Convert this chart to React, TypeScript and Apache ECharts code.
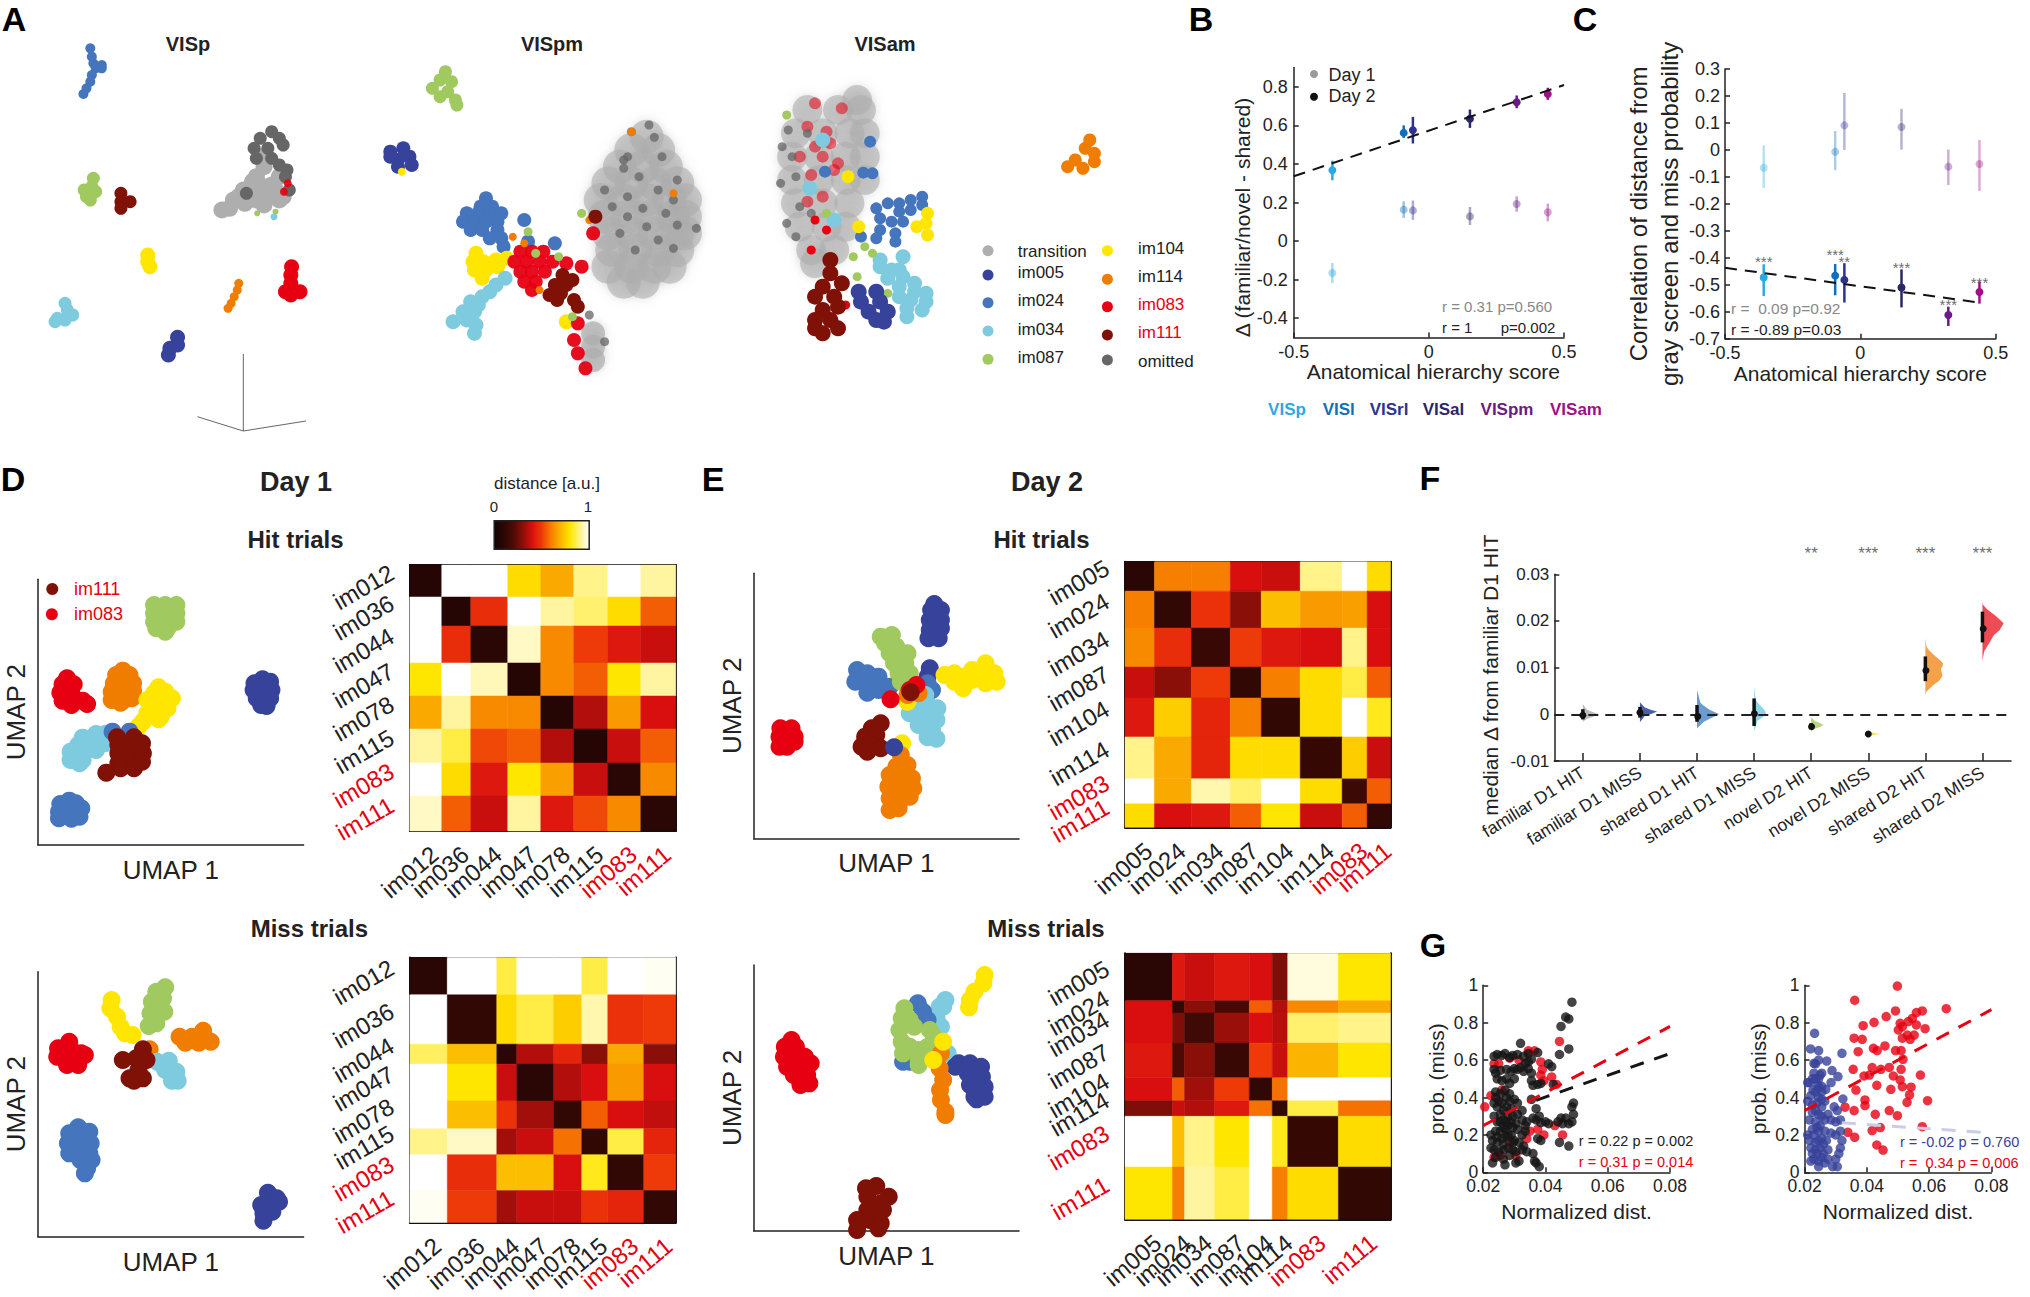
import React, { useEffect, useRef } from "react";
import * as echarts from "echarts";

const FONT = "'Liberation Sans', Arial, sans-serif";
const colors: Record<string, string> = {
  im005: "#37429a", im024: "#4475bd", im034: "#7ecbdf", im087: "#a0c95f", im104: "#ffe600",
  im114: "#f07d00", im083: "#e60012", im111: "#7f1106", transition: "#aeaeae", omitted: "#666666",
};
type Cluster = [string, number[][], number?, number?];

// ---- Panel A: UMAP embeddings
const vispUmap: Cluster[] = [
  ["transition", [[290,630],[305,600],[318,570],[335,600],[350,590],[360,570],[335,530],[345,500],[365,530],[340,470],[320,610],[345,615],[300,625],[312,590],[330,570],[355,555],[365,600],[330,545],[345,560],[370,590]], 17, 1],
  ["omitted", [[355,395],[340,415],[365,415],[332,445],[350,445],[370,435],[335,475],[355,475],[365,495],[375,510],[373,530],[322,580],[378,570]], 13, 1],
  ["im083", [[371,575],[376,550]], 8, 0.9],
  ["im087", [[360,635],[336,640]], 6, 1],
  ["im034", [[358,650]], 7, 1],
  ["im024", [[118,145],[120,170],[122,190],[133,195],[125,205],[133,205],[120,225],[118,245],[113,265],[109,282]], 10, 1],
  ["im087", [[122,535],[120,560],[110,570],[125,575],[113,590],[118,600]], 13, 1],
  ["im111", [[158,580],[158,605],[170,605],[158,625]], 13, 1],
  ["im104", [[193,765],[193,785],[196,800]], 15, 1],
  ["im083", [[381,800],[380,825],[380,850],[373,875],[392,875],[380,885]], 15, 1],
  ["im114", [[312,850],[310,870],[306,890],[302,910],[298,925]], 9, 1],
  ["im034", [[85,910],[88,930],[95,945],[75,955],[85,960],[72,965]], 13, 1],
  ["im005", [[232,1012],[232,1035],[222,1045],[220,1065]], 15, 1],
];
const vispmUmap: Cluster[] = [
  ["transition", [[845,410],[825,450],[860,450],[810,500],[840,500],[870,500],[795,550],[825,550],[855,550],[885,550],[785,600],[815,600],[845,600],[875,600],[895,600],[790,650],[820,650],[850,650],[880,650],[895,650],[795,700],[825,700],[855,700],[885,700],[895,700],[800,750],[830,750],[860,750],[885,750],[795,800],[825,800],[855,800],[875,800],[815,845],[840,845]], 34, 0.6],
  ["transition", [[775,1000],[775,1040],[775,1080]], 24, 0.7],
  ["omitted", [[825,395],[848,375],[855,412],[820,470],[815,505],[865,470],[885,540],[835,530],[790,570],[820,590],[860,570],[880,600],[800,620],[840,625],[870,640],[820,650],[885,675],[845,680],[910,685],[860,720],[810,700],[880,745],[830,750],[790,1025],[770,945],[815,480]], 9, 0.75],
  ["im024", [[635,595],[628,620],[643,620],[610,640],[625,640],[640,640],[655,640],[605,665],[620,665],[635,665],[650,665],[615,690],[630,690],[650,690],[640,715],[655,715],[658,740],[685,660],[690,725],[725,730]], 14, 1],
  ["im104", [[622,760],[618,785],[632,785],[648,780],[662,775],[620,810],[635,810],[650,800],[630,835],[740,965]], 15, 1],
  ["im034", [[660,835],[648,855],[640,875],[630,890],[615,905],[625,915],[605,935],[620,935],[592,965],[610,960],[622,975],[620,1000]], 15, 1],
  ["im083", [[680,755],[695,755],[710,755],[672,785],[688,785],[705,785],[722,785],[680,815],[695,815],[712,815],[685,845],[700,845],[695,870],[740,790],[755,970],[750,1020],[755,1060],[765,1105],[775,700],[760,800]], 14, 0.95],
  ["im114", [[685,730],[670,710],[705,870],[880,580],[825,395],[770,660]], 8, 1],
  ["im087", [[730,770],[748,950],[700,760],[690,695],[760,640]], 9, 1],
  ["im111", [[735,825],[725,855],[740,855],[718,885],[733,880],[748,840],[728,900],[755,920],[750,900],[778,650]], 14, 1],
  ["im087", [[582,215],[575,240],[590,245],[565,265],[585,275],[575,290],[595,300],[597,315]], 13, 1],
  ["im005", [[527,445],[510,455],[535,470],[520,480],[510,470],[520,500],[538,495]], 14, 1],
  ["im104", [[525,515]], 8, 1],
];
const visamUmap: Cluster[] = [
  ["transition", [[1120,300],[1055,330],[1095,330],[1125,330],[1040,400],[1075,400],[1110,400],[1130,400],[1035,470],[1070,470],[1105,470],[1130,470],[1035,540],[1070,540],[1105,540],[1130,540],[1040,610],[1075,610],[1110,610],[1045,680],[1080,680],[1105,680],[1060,750],[1090,750],[1065,790]], 30, 0.6],
  ["im083", [[1065,310],[1100,325],[1055,380],[1080,395],[1045,470],[1075,470],[1095,490],[1060,525],[1055,605],[1075,590],[1090,510],[1065,440],[1085,430]], 12, 0.55],
  ["omitted", [[1030,390],[1022,440],[1020,550],[1040,530],[1028,670],[1035,470],[1055,400],[1045,620],[1060,640],[1040,710]], 9, 0.75],
  ["im034", [[1075,420],[1058,565],[1090,660],[1150,800],[1165,810],[1180,830],[1195,850],[1160,835],[1175,860],[1195,875],[1210,880],[1175,890],[1190,900],[1210,905],[1185,925],[1205,930],[1185,950],[1150,780],[1180,770],[1175,810]], 15, 1],
  ["im024", [[1137,425],[1128,518],[1140,520],[1078,515],[1205,590],[1190,600],[1175,610],[1160,610],[1145,625],[1175,635],[1190,630],[1205,615],[1150,655],[1165,665],[1180,665],[1150,690],[1170,700],[1145,715],[1170,725],[1125,710]], 12, 1],
  ["im104", [[1212,640],[1210,670],[1198,680],[1212,705],[1108,530],[1122,680]], 13, 1],
  ["im087", [[1130,740],[1115,770],[1140,760],[1120,830],[1160,880],[1028,345],[1080,640]], 9, 1],
  ["im005", [[1122,875],[1145,875],[1125,905],[1150,905],[1135,935],[1160,935],[1145,960],[1155,965]], 16, 1],
  ["im083", [[1105,915],[1060,750],[1080,690],[1065,660]], 9, 1],
  ["im111", [[1085,780],[1085,820],[1075,860],[1100,850],[1065,890],[1090,890],[1075,930],[1095,920],[1065,960],[1085,960],[1075,1000],[1095,985],[1065,985]], 16, 1],
  ["im114", [[1424,420],[1418,445],[1430,460],[1405,480],[1430,485],[1415,505],[1395,500]], 13, 1],
];
const legendDots: Cluster[] = [
  ["transition", [[1291,752]], 11, 1], ["im005", [[1291,825]], 11, 1], ["im024", [[1291,908]], 11, 1],
  ["im034", [[1291,993]], 11, 1], ["im087", [[1291,1078]], 11, 1], ["im104", [[1447,752]], 11, 1],
  ["im114", [[1447,838]], 11, 1], ["im083", [[1447,920]], 11, 1], ["im111", [[1447,1005]], 11, 1], ["omitted", [[1447,1080]], 11, 1],
];
const legendNames = ["transition", "im005", "im024", "im034", "im087", "im104", "im114", "im083", "im111", "omitted"];

// ---- Panels D / E: UMAP embeddings
const dHitUmap: Cluster[] = [
  ["im087", [[345,465],[370,465],[395,465],[345,490],[370,490],[395,490],[345,515],[370,515],[395,515],[350,535],[375,535],[370,545]]],
  ["im083", [[150,685],[140,703],[165,703],[135,728],[160,728],[140,752],[165,752],[185,752],[160,765],[195,762]]],
  ["im114", [[275,662],[260,675],[290,675],[255,700],[280,700],[298,700],[250,725],[275,725],[298,722],[250,750],[275,752],[295,745],[270,758]]],
  ["im104", [[355,712],[345,730],[370,725],[330,750],[360,750],[385,745],[345,775],[375,775],[330,790],[360,800],[320,815],[310,830],[355,808]]],
  ["im005", [[588,688],[570,700],[605,695],[568,720],[590,720],[608,720],[575,745],[605,745],[585,765],[597,768]]],
  ["im034", [[215,852],[185,863],[235,852],[210,870],[175,885],[235,880],[158,905],[185,905],[215,900],[158,930],[185,930],[178,940]]],
  ["im024", [[252,845],[290,845]]],
  ["im111", [[262,862],[300,862],[265,885],[295,885],[318,880],[265,910],[295,910],[320,910],[265,940],[295,940],[318,935],[270,955],[300,955],[238,968]]],
  ["im024", [[155,1052],[135,1062],[170,1060],[132,1085],[155,1085],[182,1075],[132,1105],[160,1106],[178,1100]]],
];
const dMissUmap: Cluster[] = [
  ["im104", [[250,330],[247,355],[262,380],[270,410],[280,430],[297,435]]],
  ["im087", [[370,292],[350,305],[365,325],[340,335],[368,365],[337,370],[350,400],[333,408]]],
  ["im114", [[455,422],[430,440],[460,445],[472,455],[402,440],[415,458],[445,458],[335,478]]],
  ["im083", [[155,455],[130,475],[160,480],[182,490],[128,500],[150,505],[190,495],[150,525],[175,525]]],
  ["im034", [[352,515],[378,512],[370,540],[395,545],[385,572],[398,572]]],
  ["im111", [[320,478],[275,510],[305,505],[328,510],[310,540],[290,565],[320,565],[300,572]]],
  ["im024", [[175,712],[155,730],[200,725],[152,760],[175,760],[203,760],[155,790],[200,790],[180,810],[205,810],[190,850],[195,835]]],
  ["im005", [[600,908],[620,925],[585,945],[625,935],[590,970],[610,965],[590,992]]],
];
const eHitUmap: Cluster[] = [
  ["im005", [[525,462],[518,480],[540,480],[515,510],[540,510],[515,540],[540,535],[512,565],[535,565],[515,655],[510,680]]],
  ["im024", [[352,660],[348,695],[375,670],[375,705],[400,680],[400,720],[375,728],[425,710],[510,700],[520,720]]],
  ["im034", [[505,735],[480,765],[515,770],[532,775],[470,790],[500,800],[530,810],[490,825],[520,835],[510,862],[530,866]]],
  ["im087", [[405,560],[430,555],[415,580],[440,590],[425,610],[450,620],[465,610],[435,640],[460,640],[445,670],[470,670],[450,695]]],
  ["im104", [[548,675],[570,670],[590,680],[610,660],[640,640],[660,670],[640,670],[610,690],[640,700],[665,695],[590,715],[570,695],[465,755],[453,880]]],
  ["im114", [[465,735],[490,730],[450,915],[465,945],[440,950],[425,975],[450,980],[475,985],[422,1010],[450,1015],[478,1015],[425,1045],[450,1050],[470,1040],[425,1080],[445,1075]]],
  ["im083", [[470,720],[485,705],[427,748],[180,835],[205,835],[212,860],[178,860],[195,860],[178,890],[195,890],[212,875]]],
  ["im111", [[472,727],[405,820],[385,835],[370,860],[395,855],[362,890],[385,885],[405,895],[375,905]]],
  ["im005", [[435,892]]],
];
const eMissUmap: Cluster[] = [
  ["im104", [[638,255],[635,280],[615,305],[605,330],[603,352]]],
  ["im034", [[550,330],[537,350],[545,350],[530,385],[540,410],[555,490]]],
  ["im024", [[488,340],[500,365],[510,390],[455,515],[470,515]]],
  ["im005", [[580,520],[605,520],[630,530],[572,530],[600,550],[632,560],[605,585],[638,590],[615,620],[638,620],[620,628]]],
  ["im087", [[458,355],[452,385],[470,390],[447,420],[480,410],[515,420],[525,440],[452,455],[510,470],[470,470],[490,480],[455,490],[490,510],[490,525],[520,470]]],
  ["im114", [[537,535],[545,570],[538,600],[540,630],[550,665],[550,675],[540,490]]],
  ["im104", [[545,455],[523,510]]],
  ["im083", [[205,450],[190,470],[215,470],[188,500],[210,500],[235,500],[195,530],[220,525],[248,520],[210,555],[240,555],[225,585],[245,580]]],
  ["im111", [[395,888],[372,895],[375,920],[423,920],[405,940],[375,960],[410,960],[352,990],[380,990],[405,1000],[352,1020],[400,1015]]],
];
const dHitLegend: Cluster[] = [["im111", [[117,417]]], ["im083", [[116,493]]]];

// ---- Panels D / E: distance matrices
const heatStops = ["#120302","#2a0704","#4d0a05","#8a0f08","#d90f0f","#ee3a08","#f77f00","#fbb400","#ffe600","#fff38a","#ffffff"];
const dImages = ["im012","im036","im044","im047","im078","im115","im083","im111"];
const eImages = ["im005","im024","im034","im087","im104","im114","im083","im111"];
const dHitEdges = [0,32,61,98,131,164,198,231,266];
const dMissEdges = [0,37.5,87,107,144,172,198,234,266];
const eHitEdges = [0,29.5,66.5,105.5,136.5,175.5,217.5,242.5,266];
const eMissEdges = [0,47.5,59.7,89.8,124.5,147.5,163,213.7,266];
const dHitMatrix = [
  [.08,1,1,.78,.68,.9,1,.92],[1,.08,.47,1,.92,.88,.78,.55],[1,.47,.1,.95,.62,.5,.42,.38],[.8,1,.94,.08,.62,.55,.8,.92],
  [.68,.92,.62,.62,.08,.35,.65,.4],[.92,.85,.52,.55,.35,.08,.38,.55],[1,.78,.42,.8,.66,.38,.1,.62],[.95,.55,.38,.92,.42,.52,.62,.1],
];
const dMissMatrix = [
  [.1,1,.85,1,1,.85,1,.99],[1,.12,.78,.85,.75,.93,.48,.5],[.87,.72,.1,.35,.45,.3,.68,.3],[1,.8,.38,.1,.35,.4,.65,.4],
  [1,.72,.48,.33,.12,.55,.4,.37],[.9,.95,.33,.38,.58,.12,.85,.45],[1,.47,.72,.72,.4,.82,.12,.5],[.99,.5,.33,.38,.38,.48,.45,.12],
];
const eHitMatrix = [
  [.1,.6,.6,.4,.38,.9,1,.78],[.6,.12,.48,.3,.72,.65,.66,.4],[.62,.47,.14,.5,.42,.4,.9,.4],[.38,.3,.5,.12,.6,.78,.85,.55],
  [.42,.75,.45,.6,.12,.78,1,.82],[.9,.68,.45,.78,.78,.13,.75,.38],[1,.68,.93,.88,1,.78,.15,.55],[.78,.4,.42,.55,.8,.38,.55,.12],
];
const eMissMatrix = [
  [.1,.42,.38,.42,.4,.28,.97,.8],[.4,.12,.3,.18,.55,.35,.62,.68],[.4,.28,.16,.32,.4,.36,.88,.9],[.42,.2,.3,.14,.5,.38,.7,.8],
  [.4,.55,.33,.5,.12,.58,1,1],[.28,.38,.35,.42,.58,.12,.85,.58],[1,.72,.9,.8,1,.82,.13,.78],[.8,.6,.92,.85,1,.6,.78,.12],
];

// ---- Panels B / C
const areas = ["VISp","VISl","VISrl","VISal","VISpm","VISam"];
const areaColors = ["#29abe2","#0f6fba","#2e3192","#2a2668","#6a1b87","#a10f86"];
const hierarchyScore = [-0.357,-0.093,-0.059,0.152,0.325,0.44];
const bDay1 = [-.166,.163,.159,.128,.192,.149];
const bDay1Lo = [-.218,.12,.11,.083,.152,.102];
const bDay1Hi = [-.114,.206,.21,.177,.232,.194];
const bDay2 = [.367,.561,.575,.634,.72,.762];
const bDay2Lo = [.315,.535,.506,.587,.689,.732];
const bDay2Hi = [.417,.6,.644,.682,.755,.795];
const bFit = [[-.5,.336],[.5,.809]];
const cDay1 = [-.066,-.007,.091,.085,-.062,-.052];
const cDay1Lo = [-.141,-.075,0,.001,-.13,-.152];
const cDay1Hi = [.017,.07,.211,.152,.001,.037];
const cDay2 = [-.473,-.466,-.482,-.51,-.612,-.527];
const cDay2Lo = [-.542,-.539,-.566,-.584,-.653,-.57];
const cDay2Hi = [-.424,-.423,-.42,-.443,-.581,-.489];
const cStars = ["***","***","**","***","***","***"];
const cStarY = [-.415,-.388,-.415,-.437,-.573,-.49];
const cFit = [[-.5,-.437],[.44,-.566]];

// ---- Panel F
const fCategories = ["familiar D1 HIT","familiar D1 MISS","shared D1 HIT","shared D1 MISS","novel D2 HIT","novel D2 MISS","shared D2 HIT","shared D2 MISS"];
const fColors = ["#bdbdbd","#4d5fa8","#6a9bd1","#8fd5e6","#b5d67f","#f5e642","#f4a14a","#ed4c55"];
const fMedian = [-.0002,.0004,0,.0004,-.0023,-.0042,.0098,.0188];
const fLow = [-.0011,-.0007,-.0016,-.0025,-.0027,-.0046,.0071,.0154];
const fHigh = [.0011,.0016,.002,.0034,-.0019,-.0038,.0124,.022];
const fStars = ["","","","","**","***","***","***"];
const fProfiles = [
  [[.0022,0],[.001,.07],[.0003,.22],[0,.28],[-.0004,.2],[-.001,.07],[-.0016,0]],
  [[.0026,0],[.0015,.08],[.0009,.2],[.0006,.3],[.0002,.22],[-.0004,.08],[-.0017,0]],
  [[.0052,0],[.0025,.06],[.002,.1],[.001,.22],[0,.39],[-.0008,.25],[-.0016,.12],[-.003,0]],
  [[.006,0],[.003,.03],[.002,.1],[.001,.18],[.0002,.21],[-.0006,.15],[-.0014,.06],[-.0036,0]],
  [[-.0006,0],[-.0014,.06],[-.002,.18],[-.0023,.22],[-.0027,.15],[-.0032,.05],[-.0037,0]],
  [[-.0036,0],[-.004,.1],[-.0042,.22],[-.0044,.1],[-.0047,0]],
  [[.0163,0],[.0145,.02],[.0135,.08],[.0125,.17],[.0115,.27],[.0109,.31],[.0103,.3],[.0097,.27],[.0088,.29],[.0082,.3],[.0072,.24],[.0062,.13],[.0049,.02],[.0042,0]],
  [[.024,0],[.0235,.01],[.0225,.08],[.021,.24],[.0195,.37],[.018,.3],[.017,.2],[.0155,.13],[.0135,.03],[.0115,0]],
];

// ---- Panel G
const gBlackLeft = [[.0235,.62],[.0245,.63],[.026,.625],[.027,.635],[.0285,.615],[.0295,.625],[.031,.63],[.032,.69],[.033,.62],[.0345,.635],[.0355,.605],[.0375,.64],[.0235,.55],[.024,.53],[.0255,.545],[.0245,.5],[.026,.49],[.0275,.55],[.0275,.5],[.0285,.475],[.029,.54],[.03,.555],[.03,.5],[.031,.55],[.032,.56],[.033,.54],[.0335,.58],[.0345,.59],[.0345,.555],[.0355,.53],[.0355,.49],[.036,.465],[.0375,.47],[.0385,.475],[.041,.58],[.042,.565],[.0425,.47],[.0485,.91],[.0465,.83],[.0475,.82],[.045,.78],[.0445,.63],[.0475,.66],[.049,.37],[.0485,.35],[.049,.31],[.0485,.27],[.0465,.29],[.045,.29],[.044,.27],[.0455,.26],[.0475,.26],[.0445,.16],[.0475,.14],[.037,.34],[.0355,.39],[.036,.29],[.037,.28],[.038,.3],[.0385,.265],[.04,.27],[.041,.26],[.0375,.18],[.0385,.17],[.036,.1],[.037,.05],[.038,.03],[.0365,.06],[.024,.43],[.024,.4],[.0235,.37],[.025,.38],[.0245,.35],[.026,.37],[.0275,.4],[.0285,.38],[.03,.39],[.031,.37],[.029,.34],[.0265,.33],[.0255,.31],[.0235,.3],[.0245,.27],[.0265,.28],[.028,.3],[.0295,.3],[.031,.31],[.0325,.33],[.0325,.28],[.0335,.25],[.034,.27],[.0335,.22],[.024,.22],[.0225,.2],[.0255,.22],[.027,.23],[.028,.25],[.0295,.24],[.031,.23],[.0325,.2],[.023,.17],[.0245,.16],[.026,.18],[.0275,.19],[.029,.2],[.03,.17],[.0315,.16],[.033,.14],[.034,.11],[.0225,.13],[.0235,.12],[.025,.11],[.0265,.12],[.028,.13],[.0295,.12],[.0305,.11],[.0325,.12],[.024,.08],[.023,.05],[.0265,.07],[.027,.04],[.0285,.09],[.0305,.05],[.0315,.06],[.0255,.42],[.027,.44],[.0285,.42],[.0275,.35],[.0255,.27],[.028,.2],[.0265,.15],[.0245,.19],[.0295,.16],[.029,.27],[.0305,.26],[.0265,.24],[.0275,.27]];
const gRedLeft = [[.0205,.35],[.0225,.41],[.0235,.58],[.025,.58],[.026,.44],[.0285,.61],[.0315,.6],[.0345,.65],[.0365,.65],[.0385,.59],[.039,.55],[.0385,.52],[.0395,.49],[.0445,.7],[.042,.51],[.0435,.47],[.035,.22],[.0375,.23],[.0395,.2],[.0455,.2],[.043,.25],[.0255,.09],[.0235,.08],[.0305,.09],[.034,.18],[.0285,.16]];
const gBlueRight = [[.0232,.743],[.0219,.66],[.0245,.651],[.032,.636],[.0271,.595],[.023,.583],[.0288,.544],[.0307,.512],[.0255,.53],[.023,.53],[.021,.48],[.0285,.48],[.0268,.444],[.0243,.467],[.0227,.44],[.0323,.392],[.021,.2],[.0215,.17],[.022,.13],[.0225,.1],[.023,.07],[.0245,.03],[.0245,.06],[.024,.1],[.025,.13],[.0235,.16],[.0225,.23],[.0215,.28],[.0235,.27],[.025,.25],[.0265,.22],[.0285,.21],[.03,.2],[.0315,.22],[.032,.17],[.0315,.13],[.031,.1],[.03,.07],[.029,.03],[.0305,.03],[.0275,.12],[.026,.1],[.027,.17],[.0255,.18],[.0235,.33],[.0225,.36],[.021,.38],[.0245,.31],[.0255,.35],[.0265,.28],[.0285,.28],[.03,.27],[.0315,.28],[.0275,.31],[.0265,.38],[.0245,.4],[.0235,.43],[.022,.41],[.0255,.46],[.0245,.5],[.025,.52],[.0225,.5],[.0255,.43],[.0295,.35],[.0305,.33],[.0215,.48],[.0235,.58],[.0245,.6],[.0255,.39],[.0245,.22],[.0225,.32],[.0255,.08],[.0265,.05],[.0275,.07],[.023,.2],[.024,.37],[.0235,.12],[.022,.06],[.0255,.3],[.0245,.45],[.0235,.5],[.0245,.17],[.026,.15],[.024,.24]];
const gRedRight = [[.0498,.996],[.0361,.92],[.0655,.875],[.0578,.863],[.0559,.854],[.0492,.863],[.0462,.833],[.0423,.802],[.0388,.784],[.0546,.823],[.0533,.806],[.0559,.788],[.0587,.768],[.0507,.797],[.0514,.779],[.0501,.761],[.0359,.717],[.0385,.711],[.0514,.717],[.053,.734],[.0552,.734],[.0539,.711],[.0458,.676],[.0421,.663],[.0433,.651],[.0372,.645],[.0492,.651],[.051,.651],[.0516,.604],[.0356,.551],[.0417,.56],[.0445,.551],[.0472,.561],[.051,.551],[.0572,.52],[.0391,.515],[.0408,.52],[.0485,.515],[.0507,.494],[.0365,.44],[.0432,.465],[.0477,.444],[.0514,.458],[.0542,.455],[.0537,.414],[.0529,.374],[.0394,.387],[.0394,.357],[.033,.348],[.0359,.33],[.0427,.31],[.0472,.33],[.0498,.303],[.0595,.383],[.0578,.244],[.0443,.239],[.0417,.223],[.0339,.214],[.0361,.187],[.0432,.146],[.0452,.119]];
const gFitRedLeft = [[.02,.25],[.08,.78]];
const gFitBlackLeft = [[.037,.385],[.08,.635]];
const gFitRedRight = [[.02,.33],[.08,.87]];
const gFitBlueRight = [[.032,.265],[.08,.21]];

const grids: any[] = [], xAxes: any[] = [], yAxes: any[] = [], series: any[] = [];
const axisBase = (fontSize: number, margin: number) => ({
  axisLine: { show: true, onZero: false, lineStyle: { color: "#222", width: 1.5 } },
  axisTick: { show: true, inside: true, length: 5, lineStyle: { color: "#222", width: 1.5 } },
  axisLabel: { show: true, color: "#222", fontSize, fontFamily: FONT, margin, showMinLabel: true, showMaxLabel: true },
  splitLine: { show: false },
  nameTextStyle: { color: "#222", fontFamily: FONT, fontSize: 21 },
  nameLocation: "middle",
});
const addGrid = (left: number, top: number, width: number, height: number) => {
  grids.push({ left, top, width, height, outerBoundsMode: "none" });
  return grids.length - 1;
};
const addUmap = (rect: number[], xr: number[], yr: number[], clusters: Cluster[], defaultSize: number, showAxes: boolean) => {
  const g = addGrid(rect[0], rect[1], rect[2], rect[3]);
  const base = showAxes ? { axisLine: { show: true, onZero: false, lineStyle: { color: "#222", width: 1.5 } }, axisTick: { show: false }, axisLabel: { show: false }, splitLine: { show: false }, nameLocation: "middle", nameTextStyle: { color: "#222", fontFamily: FONT, fontSize: 26 } } : { show: false };
  xAxes.push({ ...base, type: "value", gridIndex: g, min: xr[0], max: xr[1], position: "bottom", name: showAxes ? "UMAP 1" : "", nameGap: 12 });
  yAxes.push({ ...base, type: "value", gridIndex: g, min: yr[0], max: yr[1], inverse: true, position: "left", name: showAxes ? "UMAP 2" : "", nameGap: 9, nameRotate: 90 });
  const ax = xAxes.length - 1;
  clusters.forEach(([k, pts, size, op]) => series.push({ type: "scatter", xAxisIndex: ax, yAxisIndex: ax, data: pts, symbolSize: size ?? defaultSize, clip: false, silent: true,
    itemStyle: { color: colors[k], opacity: op ?? 1, ...(size && size > 20 ? { shadowBlur: 10, shadowColor: "rgba(170,170,170,0.6)" } : {}) } }));
};

const heatSeriesIdx: number[] = [];
const heatLabels: any[] = [];
const nameColor = (n: string) => (n === "im083" || n === "im111" ? "#e60012" : "#222");
const addHeat = (rect: number[], edges: number[], matrix: number[][], names: string[]) => {
  const g = addGrid(rect[0], rect[1], rect[2], rect[3]);
  const max = edges[edges.length - 1];
  const centres = names.map((_, i) => (edges[i] + edges[i + 1]) / 2);
  const frame = { axisLine: { show: true, onZero: false, lineStyle: { color: "#111", width: 2 } }, axisTick: { show: true, inside: true, length: 4, customValues: centres, lineStyle: { color: "#111", width: 1.2 } }, axisLabel: { show: false }, splitLine: { show: false } };
  xAxes.push({ ...frame, type: "value", gridIndex: g, min: 0, max, position: "bottom" });
  yAxes.push({ ...frame, type: "value", gridIndex: g, min: 0, max, inverse: true, position: "left" });
  const ax = xAxes.length - 1;
  xAxes.push({ ...frame, type: "value", gridIndex: g, min: 0, max, position: "top" });
  yAxes.push({ ...frame, type: "value", gridIndex: g, min: 0, max, inverse: true, position: "right" });
  names.forEach((n, i) => {
    const common = { type: "text", silent: true, z: 100 };
    heatLabels.push({ ...common, x: rect[0] + (centres[i] / max) * rect[2] + 9, y: rect[1] + rect[3] + 20, rotation: (40 * Math.PI) / 180,
      style: { text: n, fill: nameColor(n), font: `24px ${FONT}`, align: "right", verticalAlign: "middle", textAlign: "right", textVerticalAlign: "middle" } });
    heatLabels.push({ ...common, x: rect[0] - 12, y: rect[1] + (centres[i] / max) * rect[3], rotation: (30 * Math.PI) / 180,
      style: { text: n, fill: nameColor(n), font: `24px ${FONT}`, align: "right", verticalAlign: "bottom", textAlign: "right", textVerticalAlign: "bottom" } });
  });
  const data: number[][] = [];
  matrix.forEach((row, r) => row.forEach((v, c) => data.push([edges[c], edges[c + 1], edges[r], edges[r + 1], v])));
  heatSeriesIdx.push(series.length);
  series.push({
    type: "custom", xAxisIndex: ax, yAxisIndex: ax, data, silent: true,
    encode: { x: [0, 1], y: [2, 3] },
    renderItem: (_: any, api: any) => {
      const a = api.coord([api.value(0), api.value(2)]);
      const b = api.coord([api.value(1), api.value(3)]);
      const fill = api.visual("color");
      return { type: "rect", shape: { x: a[0], y: a[1], width: b[0] - a[0], height: b[1] - a[1] }, style: { fill, stroke: fill, lineWidth: 0.5 } };
    },
  });
};

const dotBars = (ax: number, val: number[], lo: number[], hi: number[], opacity: number) => {
  series.push({
    type: "custom", xAxisIndex: ax, yAxisIndex: ax, silent: true,
    data: val.map((v, i) => [hierarchyScore[i], v, lo[i], hi[i], i]),
    encode: { x: 0, y: 1 },
    renderItem: (_: any, api: any) => {
      const x = api.value(0);
      const p = api.coord([x, api.value(1)]);
      const l = api.coord([x, api.value(2)]);
      const h = api.coord([x, api.value(3)]);
      const c = areaColors[api.value(4)];
      return { type: "group", children: [
        { type: "line", shape: { x1: l[0], y1: l[1], x2: h[0], y2: h[1] }, style: { stroke: c, lineWidth: 2.5, opacity } },
        { type: "circle", shape: { cx: p[0], cy: p[1], r: 4 }, style: { fill: c, opacity } },
      ] };
    },
  });
};
const dashed = (ax: number, pts: number[][], color: string, width: number, dash: number[]) =>
  series.push({ type: "line", xAxisIndex: ax, yAxisIndex: ax, data: pts, showSymbol: false, silent: true, clip: false, lineStyle: { color, width, type: dash } });

// Panel A
addUmap([0, 0, 1200, 450], [0, 1568], [0, 1350], vispUmap, 12, false);
addUmap([0, 0, 1200, 450], [0, 1568], [0, 1350], vispmUmap, 12, false);
addUmap([0, 0, 1200, 450], [0, 1568], [0, 1350], visamUmap, 12, false);
addUmap([0, 0, 1200, 450], [0, 1568], [0, 1350], legendDots, 10, false);

// Panels D, E
addUmap([38, 579.3, 265.6, 265.7], [85, 680], [388, 1185], dHitUmap, 18, true);
addUmap([38, 579.3, 265.6, 265.7], [85, 680], [388, 1185], dHitLegend, 12, false);
addUmap([38, 971.7, 265.6, 265], [85, 680], [245, 1040], dMissUmap, 18, true);
addUmap([753.6, 573.3, 265.4, 265], [120, 715], [370, 1165], eHitUmap, 18, true);
addUmap([753.6, 965, 265.4, 265.7], [120, 715], [225, 1022], eMissUmap, 18, true);
addHeat([409.8, 565, 266, 266], dHitEdges, dHitMatrix, dImages);
addHeat([409.8, 957.5, 266, 265], dMissEdges, dMissMatrix, dImages);
addHeat([1125, 561.7, 265.6, 265.6], eHitEdges, eHitMatrix, eImages);
addHeat([1125, 953.3, 265.6, 266], eMissEdges, eMissMatrix, eImages);

// Panel B
{
  const g = addGrid(1293.7, 67.5, 270.3, 270);
  const yt = [-.4,-.2,0,.2,.4,.6,.8];
  const b = axisBase(18, 6);
  xAxes.push({ ...b, type: "value", gridIndex: g, min: -.5, max: .5, interval: .5, position: "bottom", axisLabel: { ...b.axisLabel, margin: 5 }, name: "Anatomical hierarchy score", nameGap: 20, nameTextStyle: { ...b.nameTextStyle, padding: [0, 0, 0, 9] } });
  yAxes.push({ ...b, type: "value", gridIndex: g, min: -.5, max: .9, position: "left", axisTick: { ...b.axisTick, customValues: yt }, axisLabel: { ...b.axisLabel, customValues: yt }, name: "Δ (familiar/novel - shared)", nameGap: 31, nameRotate: 90, nameTextStyle: { ...b.nameTextStyle, padding: [0, 30, 0, 0] } });
  const ax = xAxes.length - 1;
  dotBars(ax, bDay1, bDay1Lo, bDay1Hi, 0.4);
  dashed(ax, bFit, "#111", 2, [12, 8]);
  dotBars(ax, bDay2, bDay2Lo, bDay2Hi, 1);
}
// Panel C
{
  const g = addGrid(1725, 69, 270.7, 269.7);
  const b = axisBase(18, 5);
  xAxes.push({ ...b, type: "value", gridIndex: g, min: -.5, max: .5, interval: .5, position: "bottom", name: "Anatomical hierarchy score", nameGap: 18 });
  yAxes.push({ ...b, type: "value", gridIndex: g, min: -.7, max: .3, interval: .1, position: "left", name: "Correlation of distance from\ngray screen and miss probability", nameGap: 36, nameRotate: 90, nameTextStyle: { ...b.nameTextStyle, fontSize: 24, lineHeight: 31, padding: [0, 20, 0, 0] } });
  const ax = xAxes.length - 1;
  dotBars(ax, cDay1, cDay1Lo, cDay1Hi, 0.35);
  dashed(ax, cFit, "#111", 2, [12, 8]);
  dotBars(ax, cDay2, cDay2Lo, cDay2Hi, 1);
  series.push({ type: "scatter", xAxisIndex: ax, yAxisIndex: ax, symbolSize: 0, silent: true, data: cStarY.map((v, i) => [hierarchyScore[i], v]),
    label: { show: true, position: "inside", fontSize: 15, color: "#444", fontFamily: FONT, formatter: (p: any) => cStars[p.dataIndex] } });
}
// Panel F
{
  const g = addGrid(1554.3, 574.3, 456.7, 186.7);
  const b = axisBase(17, 5);
  xAxes.push({ ...b, type: "category", gridIndex: g, data: fCategories, position: "bottom", axisTick: { ...b.axisTick, alignWithLabel: true, length: 8 }, axisLabel: { ...b.axisLabel, interval: 0, rotate: 32, margin: 10, fontSize: 17.5 } });
  yAxes.push({ ...b, type: "value", gridIndex: g, min: -.01, max: .03, interval: .01, position: "left", name: "median Δ from familiar D1 HIT", nameGap: 53, nameRotate: 90, nameTextStyle: { ...b.nameTextStyle, padding: [0, 15, 0, 0] } });
  const ax = xAxes.length - 1;
  series.push({
    type: "custom", xAxisIndex: ax, yAxisIndex: ax, silent: true,
    data: fMedian.map((m, i) => [i, m]),
    encode: { x: 0, y: 1 },
    renderItem: (p: any, api: any) => {
      const i = p.dataIndex;
      const band = api.size([1, 0])[0];
      const x0 = api.coord([i, 0])[0];
      const pts = fProfiles[i].map(([v, f]) => [x0 + f * band, api.coord([i, v])[1]]);
      return { type: "polygon", shape: { points: pts }, style: { fill: fColors[i] } };
    },
    markLine: { silent: true, symbol: "none", label: { show: false }, data: [{ yAxis: 0 }], lineStyle: { color: "#222", width: 1.8, type: [10, 7] } },
  });
  series.push({
    type: "custom", xAxisIndex: ax, yAxisIndex: ax, silent: true,
    data: fMedian.map((m, i) => [i, m]),
    encode: { x: 0, y: 1 },
    z: 5,
    renderItem: (p: any, api: any) => {
      const i = p.dataIndex;
      const c = api.coord([i, fMedian[i]]);
      const l = api.coord([i, fLow[i]]);
      const h = api.coord([i, fHigh[i]]);
      return { type: "group", children: [
        { type: "line", shape: { x1: c[0], y1: l[1], x2: c[0], y2: h[1] }, style: { stroke: "#111", lineWidth: 3.5 } },
        { type: "circle", shape: { cx: c[0], cy: c[1], r: 3.5 }, style: { fill: "#111" } },
      ] };
    },
  });
  series.push({ type: "scatter", xAxisIndex: ax, yAxisIndex: ax, symbolSize: 0, silent: true, clip: false, data: fStars.map((s, i) => [i, s ? 0.0345 : null]),
    label: { show: true, position: "inside", fontSize: 17, color: "#444", fontFamily: FONT, formatter: (p: any) => fStars[p.dataIndex] } });
}
// Panel G
const addG = (left: number) => {
  const g = addGrid(left, 985.3, 186.8, 187);
  const b = axisBase(17.5, 5);
  xAxes.push({ ...b, type: "value", gridIndex: g, min: .02, max: .08, interval: .02, position: "bottom", name: "Normalized dist.", nameGap: 29, axisLabel: { ...b.axisLabel, formatter: (v: number) => v.toFixed(2) } });
  yAxes.push({ ...b, type: "value", gridIndex: g, min: 0, max: 1, interval: .2, position: "left", name: "prob. (miss)", nameGap: 36, nameRotate: 90 });
  return xAxes.length - 1;
};
const scatterG = (ax: number, data: number[][], color: string) =>
  series.push({ type: "scatter", xAxisIndex: ax, yAxisIndex: ax, data, symbolSize: 9.5, clip: false, silent: true, itemStyle: { color } });
{
  const ax = addG(1483.2);
  scatterG(ax, gRedLeft, colors.im083);
  scatterG(ax, gBlackLeft, "#151515");
  dashed(ax, gFitRedLeft, colors.im083, 3, [14, 11]);
  dashed(ax, gFitBlackLeft, "#151515", 3, [14, 11]);
  const ax2 = addG(1804.6);
  scatterG(ax2, gRedRight, colors.im083);
  scatterG(ax2, gBlueRight, colors.im005);
  dashed(ax2, gFitRedRight, colors.im083, 3, [14, 11]);
  dashed(ax2, gFitBlueRight, "#c9cde8", 3, [14, 11]);
}

const txt = (x: number, y: number, text: string, size: number, o: any = {}) => ({
  type: "text", x, y, rotation: o.rot ?? 0, z: 100, silent: true,
  style: { text, fill: o.color ?? "#222", font: `${o.weight ?? "normal"} ${size}px ${FONT}`, textAlign: o.align ?? "left", textVerticalAlign: "middle", align: o.align ?? "left", verticalAlign: "middle" },
});
const line = (x1: number, y1: number, x2: number, y2: number) => ({ type: "line", shape: { x1, y1, x2, y2 }, silent: true, style: { stroke: "#666", lineWidth: 1 } });
const letter = (x: number, y: number, s: string) => txt(x, y, s, 34, { weight: "bold", color: "#000", align: "center" });

const graphics: any[] = [
  letter(14, 19, "A"), letter(1201, 19, "B"), letter(1585, 19, "C"), letter(13, 479, "D"),
  letter(713, 479, "E"), letter(1430, 478, "F"), letter(1433, 945, "G"),
  txt(188, 44, "VISp", 20, { weight: "bold", align: "center" }),
  txt(552, 44, "VISpm", 20, { weight: "bold", align: "center" }),
  txt(885, 44, "VISam", 20, { weight: "bold", align: "center" }),
  line(243.3, 354, 243.3, 431), line(197.4, 416.7, 243.3, 431), line(306, 421, 243.3, 431),
  txt(1017.7, 251.7, legendNames[0], 17), txt(1017.7, 272, legendNames[1], 17), txt(1017.7, 300.7, legendNames[2], 17),
  txt(1017.7, 329, legendNames[3], 17), txt(1017.7, 357, legendNames[4], 17),
  txt(1138, 248, legendNames[5], 17), txt(1138, 276, legendNames[6], 17), txt(1138, 304, legendNames[7], 17, { color: colors.im083 }),
  txt(1138, 332, legendNames[8], 17, { color: colors.im083 }), txt(1138, 361, legendNames[9], 17),
  txt(296, 482, "Day 1", 27, { weight: "bold", align: "center" }),
  txt(1047, 482, "Day 2", 27, { weight: "bold", align: "center" }),
  txt(295.5, 539, "Hit trials", 24, { weight: "bold", align: "center" }),
  txt(1041.5, 539, "Hit trials", 24, { weight: "bold", align: "center" }),
  txt(309.4, 928, "Miss trials", 24, { weight: "bold", align: "center" }),
  txt(1046, 928, "Miss trials", 24, { weight: "bold", align: "center" }),
  txt(547, 483, "distance [a.u.]", 17, { align: "center" }),
  txt(494, 506, "0", 15, { align: "center" }),
  txt(588, 506, "1", 15, { align: "center" }),
  { type: "rect", shape: { x: 494.2, y: 520.7, width: 95, height: 28.6 }, silent: true, z: 100, style: { fill: "none", stroke: "#222", lineWidth: 1.5 } },
  txt(74, 589, "im111", 18, { color: colors.im083 }),
  txt(74, 614, "im083", 18, { color: colors.im083 }),
  { type: "circle", shape: { cx: 1314, cy: 74, r: 4 }, silent: true, style: { fill: "#999" } },
  { type: "circle", shape: { cx: 1314, cy: 96.7, r: 4 }, silent: true, style: { fill: "#111" } },
  txt(1328.6, 75, "Day 1", 18), txt(1328.6, 96, "Day 2", 18),
  txt(1442, 306, "r = 0.31 p=0.560", 15, { color: "#888" }),
  txt(1442, 327, "r = 1", 15), txt(1500.7, 327, "p=0.002", 15),
  txt(1731, 308, "r =  0.09 p=0.92", 15.5, { color: "#888" }),
  txt(1731, 329, "r = -0.89 p=0.03", 15.5),
  txt(1578.8, 1140.7, "r = 0.22 p = 0.002", 14.5),
  txt(1578.8, 1161.7, "r = 0.31 p = 0.014", 14.5, { color: colors.im083 }),
  txt(1900, 1141.7, "r = -0.02 p = 0.760", 14.5, { color: colors.im005 }),
  txt(1900, 1163, "r =  0.34 p = 0.006", 14.5, { color: colors.im083 }),
  ...heatLabels,
];
[1287, 1338.7, 1389, 1443.5, 1507, 1576].forEach((x, i) => graphics.push(txt(x, 409, areas[i], 17, { weight: "bold", color: areaColors[i], align: "center" })));

export default function App() {
  const ref = useRef<HTMLDivElement>(null);
  useEffect(() => {
    const chart = echarts.init(ref.current!, undefined, { renderer: "svg" });
    chart.setOption({
      animation: false,
      backgroundColor: "#fff",
      textStyle: { fontFamily: FONT },
      grid: grids,
      xAxis: xAxes,
      yAxis: yAxes,
      series,
      visualMap: [{
        type: "continuous", min: 0, max: 1, seriesIndex: heatSeriesIdx, dimension: 4, orient: "horizontal",
        left: 494.2, top: 520.7, padding: 0, itemWidth: 28.6, itemHeight: 95, calculable: false, showLabel: false,
        inRange: { color: heatStops }, hoverLink: false,
      }],
      graphic: { elements: graphics },
    });
    return () => chart.dispose();
  }, []);
  return <div ref={ref} style={{ position: "absolute", left: 0, top: 0, width: 2030, height: 1297 }} />;
}
